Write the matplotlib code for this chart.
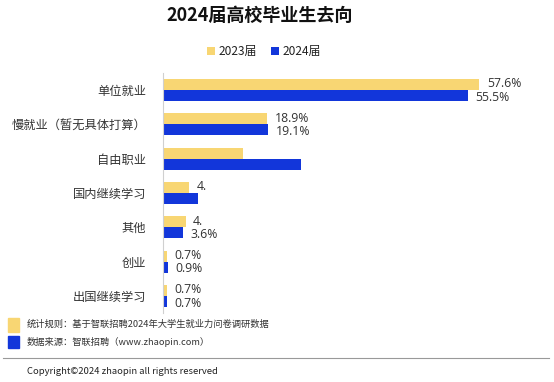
import numpy as np
import matplotlib.pyplot as plt
from matplotlib.patches import Rectangle

plt.rcParams['font.family'] = ['Noto Sans CJK SC', 'DejaVu Sans']

# data (自由职业 values are blurred in the source)
categories = ['单位就业', '慢就业（暂无具体打算）', '自由职业', '国内继续学习', '其他', '创业', '出国继续学习']
v2023 = [57.6, 18.9, 14.6, 4.8, 4.1, 0.7, 0.7]
v2024 = [55.5, 19.1, 25.1, 6.4, 3.6, 0.9, 0.7]
# labels as they are visible (some are covered in the source)
lab2023 = ['57.6%', '18.9%', '', '4.', '4.', '0.7%', '0.7%']
lab2024 = ['55.5%', '19.1%', '', '', '3.6%', '0.9%', '0.7%']
series_names = ['2023届', '2024届']

c23 = '#F8D673'
c24 = '#1236DA'

fig = plt.figure(figsize=(5.54, 3.82), dpi=100)
ax = fig.add_axes([163 / 554, 1 - 313 / 382, 391 / 554, 240 / 382])

y = np.arange(len(categories))
h = 0.32
ax.barh(y - h / 2, v2023, height=h, color=c23, label=series_names[0])
ax.barh(y + h / 2, v2024, height=h, color=c24, label=series_names[1])

for i in range(len(categories)):
    ax.text(v2023[i] + 1.4, y[i] + 0.01, lab2023[i], va='bottom', ha='left',
            fontsize=8.8, color='#333333', family='Open Sans')
    ax.text(v2024[i] + 1.4, y[i] + 0.02, lab2024[i], va='top', ha='left',
            fontsize=8.8, color='#333333', family='Open Sans')

ax.set_xlim(0, 391 / 5.49)
ax.set_ylim(6.5, -0.5)
ax.set_yticks(y)
ax.set_yticklabels(categories, fontsize=8.8, color='#333333')
ax.tick_params(axis='y', length=0, pad=12)
ax.set_xticks([])
for s in ['top', 'right', 'bottom']:
    ax.spines[s].set_visible(False)
ax.spines['left'].set_color('#d0d0d0')
ax.spines['left'].set_linewidth(0.8)

fig.text(260 / 554, 1 - 15 / 382, '2024届高校毕业生去向', ha='center', va='center',
         fontsize=13, fontweight='bold', color='#111111')

fig.legend(loc='center', bbox_to_anchor=(264 / 554, 1 - 52 / 382), ncol=2, frameon=False,
           fontsize=8.6, handlelength=0.65, handleheight=0.65, handletextpad=0.3,
           columnspacing=1.2, labelcolor='#222222')

# footnotes
fig.patches.append(Rectangle((8 / 554, 1 - 332 / 382), 11 / 554, 14 / 382,
                             transform=fig.transFigure, color=c23))
fig.patches.append(Rectangle((8 / 554, 1 - 348 / 382), 11 / 554, 12 / 382,
                             transform=fig.transFigure, color=c24))
fig.text(27 / 554, 1 - 324 / 382, '统计规则：基于智联招聘2024年大学生就业力问卷调研数据',
         fontsize=6.7, va='center', ha='left', color='#333333')
fig.text(27 / 554, 1 - 342 / 382, '数据来源：智联招聘（www.zhaopin.com）',
         fontsize=6.7, va='center', ha='left', color='#333333')
fig.lines.append(plt.Line2D([3 / 554, 549 / 554], [1 - 358 / 382, 1 - 358 / 382],
                            transform=fig.transFigure, color='#999999', lw=0.8))
fig.text(27 / 554, 1 - 371 / 382, 'Copyright©2024 zhaopin all rights reserved',
         fontsize=6.8, va='center', ha='left', color='#222222')

fig.savefig('out.png', dpi=100)
